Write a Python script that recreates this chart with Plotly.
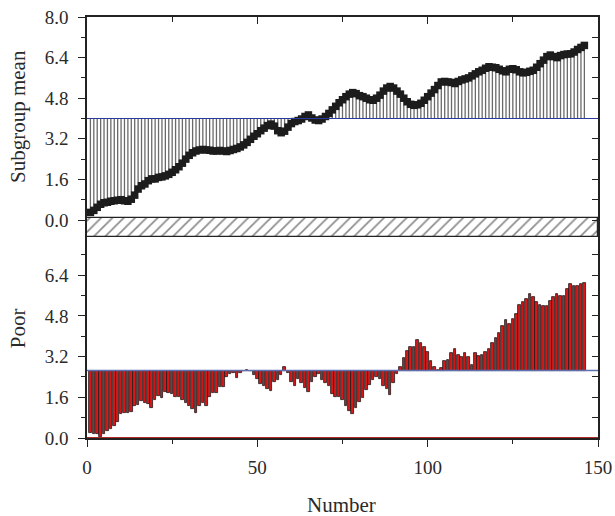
import plotly.graph_objects as go

# ---------------- data ----------------
numbers = list(range(1, 147))

subgroup_mean = [
    0.30, 0.38, 0.50, 0.62, 0.68, 0.70, 0.74, 0.76, 0.78, 0.80,
    0.76, 0.74, 0.82, 0.98, 1.22, 1.35, 1.42, 1.55, 1.62, 1.62,
    1.68, 1.70, 1.74, 1.80, 1.88, 1.98, 2.10, 2.24, 2.40, 2.55,
    2.65, 2.72, 2.76, 2.78, 2.76, 2.75, 2.72, 2.72, 2.74, 2.72,
    2.70, 2.74, 2.78, 2.82, 2.88, 2.96, 3.06, 3.18, 3.30, 3.40,
    3.52, 3.62, 3.72, 3.78, 3.70, 3.52, 3.44, 3.50, 3.66, 3.80,
    3.88, 3.92, 3.98, 4.08, 4.14, 4.02, 3.94, 3.92, 3.98, 4.08,
    4.20, 4.34, 4.48, 4.62, 4.74, 4.86, 4.96, 5.02, 4.98, 4.90,
    4.86, 4.80, 4.74, 4.72, 4.80, 4.92, 5.08, 5.20, 5.26, 5.20,
    5.08, 4.96, 4.80, 4.66, 4.56, 4.52, 4.54, 4.60, 4.72, 4.86,
    5.00, 5.14, 5.30, 5.44, 5.46, 5.44, 5.42, 5.38, 5.46, 5.52,
    5.56, 5.60, 5.68, 5.76, 5.84, 5.90, 5.98, 6.04, 6.02, 6.00,
    5.94, 5.88, 5.84, 5.94, 5.96, 5.92, 5.84, 5.80, 5.82, 5.86,
    5.90, 6.02, 6.16, 6.30, 6.44, 6.50, 6.44, 6.40, 6.48, 6.52,
    6.54, 6.55, 6.62, 6.72, 6.80, 6.88,
]

poor = [
    0.18, 0.15, 0.15, 0.05, 0.15, 0.28, 0.34, 0.47, 0.64, 0.94,
    0.97, 0.97, 1.03, 1.26, 1.30, 1.45, 1.39, 1.33, 1.16, 1.49,
    1.65, 1.56, 1.82, 1.75, 1.73, 1.60, 1.60, 1.49, 1.36, 1.26,
    1.12, 0.99, 1.27, 1.36, 1.27, 1.62, 1.75, 1.75, 2.02, 2.02,
    2.41, 2.52, 2.54, 2.34, 2.56, 2.64, 2.66, 2.63, 2.48, 2.30,
    2.12, 2.04, 1.91, 1.86, 2.21, 2.28, 2.48, 2.78, 2.57, 2.21,
    2.05, 2.32, 2.15, 1.98, 1.82, 2.21, 2.41, 2.52, 2.28, 2.15,
    2.04, 1.73, 1.60, 1.62, 1.49, 1.27, 1.07, 0.94, 1.16, 1.43,
    1.56, 1.89, 2.08, 2.28, 2.41, 2.30, 2.05, 1.92, 1.68, 2.17,
    2.50, 2.78, 3.14, 3.43, 3.57, 3.59, 3.85, 3.72, 3.59, 3.37,
    3.04, 2.78, 2.67, 2.74, 3.03, 3.07, 3.33, 3.49, 3.27, 3.17,
    3.35, 3.20, 2.87, 3.33, 3.22, 3.27, 3.39, 3.50, 3.72, 3.92,
    4.14, 4.41, 4.62, 4.49, 4.67, 4.88, 5.22, 5.35, 5.46, 5.65,
    5.53, 5.34, 5.21, 5.17, 5.17, 5.39, 5.56, 5.65, 5.59, 5.59,
    5.86, 6.06, 5.98, 5.99, 6.06, 6.11,
]

mean_center = 4.0
poor_center = 2.65
poor_lower = 0.0

x_ticks = [0, 50, 100, 150]
top_ticks = [0.0, 1.6, 3.2, 4.8, 6.4, 8.0]
bot_ticks = [0.0, 1.6, 3.2, 4.8, 6.4]

# ---------------- styling ----------------
FONT = "Liberation Serif"
TXT = "#2a2a2a"
TOP_RANGE = [-0.67, 8.0]
BOT_RANGE = [0.0, 7.9]
SPLIT = 0.4774

fig = go.Figure()

# drop lines from center line to each subgroup mean
dx, dy = [], []
for xv, yv in zip(numbers, subgroup_mean):
    dx += [xv, xv, None]
    dy += [mean_center, yv, None]
fig.add_trace(go.Scatter(x=dx, y=dy, mode="lines", xaxis="x2", yaxis="y",
                         line=dict(color="#6a6a6a", width=1.3),
                         hoverinfo="skip", showlegend=False))

# hatched band
fig.add_trace(go.Bar(x=[75], y=[0.73], base=[TOP_RANGE[0]], width=[150],
                     xaxis="x2", yaxis="y",
                     marker=dict(color="white",
                                 line=dict(color="#222", width=1.2),
                                 pattern=dict(shape="/", fgcolor="#1a1a1a", bgcolor="white",
                                              size=8, solidity=0.22)),
                     showlegend=False, hoverinfo="skip"))

# subgroup means
fig.add_trace(go.Scatter(x=numbers, y=subgroup_mean, mode="lines+markers",
                         xaxis="x2", yaxis="y",
                         line=dict(color="#1c1c1c", width=3.5),
                         marker=dict(symbol="square", size=7.5, color="#1c1c1c"),
                         showlegend=False))

# poor bars
fig.add_trace(go.Bar(x=numbers, y=[v - poor_center for v in poor], base=poor_center,
                     width=0.75, xaxis="x", yaxis="y2",
                     marker=dict(color="#d81818", line=dict(color="#1a1a1a", width=0.8)),
                     showlegend=False))

# dummy traces for right-side / mirrored axes
fig.add_trace(go.Scatter(x=[None], y=[None], xaxis="x2", yaxis="y3", showlegend=False))
fig.add_trace(go.Scatter(x=[None], y=[None], xaxis="x", yaxis="y4", showlegend=False))

tickfont = dict(family=FONT, size=19, color=TXT)

fig.update_layout(
    width=615, height=516,
    margin=dict(l=87, r=17, t=17, b=78, autoexpand=False),
    paper_bgcolor="white", plot_bgcolor="white",
    bargap=0,
    xaxis=dict(domain=[0, 1], anchor="y2", range=[0, 150], automargin=False,
               tickvals=x_ticks, ticks="outside", ticklen=7, tickwidth=1.2,
               tickcolor="#222", showline=True, linecolor="#222", linewidth=1.5,
               showgrid=False, zeroline=False, tickfont=tickfont, ticklabelstandoff=4,
               minor=dict(dtick=25, tick0=0, ticks="outside", ticklen=4,
                          tickcolor="#222", showgrid=False)),
    xaxis2=dict(domain=[0, 1], anchor="y", side="top", range=[0, 150], automargin=False,
                tickvals=x_ticks, ticks="inside", ticklen=7, tickwidth=1.2,
                tickcolor="#222", showline=True, linecolor="#222", linewidth=1.5,
                showticklabels=False, showgrid=False, zeroline=False,
                minor=dict(dtick=25, tick0=0, ticks="inside", ticklen=5,
                           tickcolor="#222", showgrid=False)),
    yaxis=dict(domain=[SPLIT, 1], anchor="x2", range=TOP_RANGE, automargin=False,
               tickvals=top_ticks, tickformat=".1f", ticks="outside", ticklen=7,
               tickwidth=1.2, tickcolor="#222", showline=True, linecolor="#222",
               linewidth=1.5, showgrid=False, zeroline=False, tickfont=tickfont,
               ticklabelstandoff=6,
               minor=dict(dtick=0.8, tick0=0, ticks="outside", ticklen=4,
                          tickcolor="#222", showgrid=False)),
    yaxis2=dict(domain=[0, SPLIT], anchor="x", range=BOT_RANGE, automargin=False,
                tickvals=bot_ticks, tickformat=".1f", ticks="outside", ticklen=7,
                tickwidth=1.2, tickcolor="#222", showline=True, linecolor="#222",
                linewidth=1.5, showgrid=False, zeroline=False, tickfont=tickfont,
                ticklabelstandoff=6,
                minor=dict(dtick=0.8, tick0=0, ticks="outside", ticklen=4,
                           tickcolor="#222", showgrid=False)),
    yaxis3=dict(overlaying="y", anchor="x2", side="right", range=TOP_RANGE,
                automargin=False,
                dtick=0.8, tick0=0, ticks="inside", ticklen=6, tickwidth=1.2,
                tickcolor="#222", showline=True, linecolor="#222", linewidth=1.5,
                showticklabels=False, showgrid=False, zeroline=False),
    yaxis4=dict(overlaying="y2", anchor="x", side="right", range=BOT_RANGE,
                automargin=False,
                dtick=0.8, tick0=0, ticks="inside", ticklen=6, tickwidth=1.2,
                tickcolor="#222", showline=True, linecolor="#222", linewidth=1.5,
                showticklabels=False, showgrid=False, zeroline=False),
    shapes=[
        dict(type="line", xref="x2 domain", yref="y", x0=0, x1=1,
             y0=mean_center, y1=mean_center, line=dict(color="#2b3a9a", width=1.2)),
        dict(type="line", xref="x domain", yref="y2", x0=0, x1=1,
             y0=poor_center, y1=poor_center, line=dict(color="#5f6fb0", width=1.5)),
        dict(type="line", xref="x domain", yref="y2", x0=0, x1=1,
             y0=poor_lower, y1=poor_lower, line=dict(color="#b02a2a", width=1.8)),
    ],
    annotations=[
        dict(text="Subgroup mean", xref="paper", yref="paper", x=-0.135, y=0.7625,
             textangle=-90, showarrow=False, xanchor="center", yanchor="middle",
             font=dict(family=FONT, size=21, color=TXT)),
        dict(text="Poor", xref="paper", yref="paper", x=-0.135, y=0.261,
             textangle=-90, showarrow=False, xanchor="center", yanchor="middle",
             font=dict(family=FONT, size=21, color=TXT)),
        dict(text="Number", xref="paper", yref="paper", x=0.499, y=-0.159,
             showarrow=False, xanchor="center", yanchor="middle",
             font=dict(family=FONT, size=21, color=TXT)),
    ],
)

fig.write_html("out.html")
